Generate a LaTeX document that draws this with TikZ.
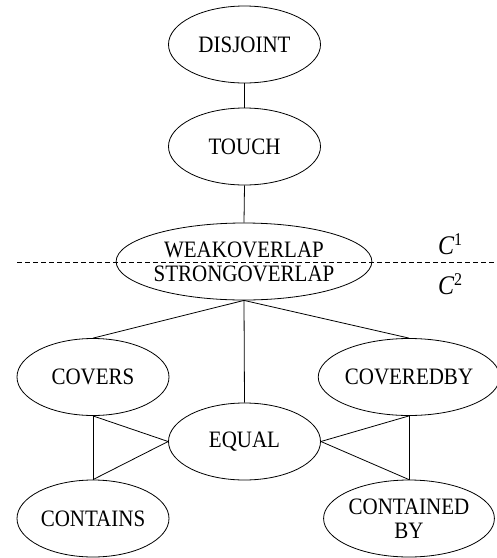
\documentclass[tikz,border=0pt]{standalone}
\usepackage{fontspec}
\setmainfont{Liberation Serif}
\usetikzlibrary{shapes.geometric}
\newcommand{\vsx}[1]{\scalebox{1}[1.12]{#1}}
\begin{document}
\begin{tikzpicture}[x=1pt,y=-1pt,
  rel/.style={draw,ellipse,line width=0.8pt,minimum width=152pt,minimum height=77pt,inner sep=0pt,align=center,font=\fontsize{21}{24}\selectfont},
  wide/.style={minimum width=228pt},
  con/.style={line width=0.8pt},
  lab/.style={font=\fontsize{24}{24}\selectfont\itshape,anchor=base west,inner sep=0pt}]
\useasboundingbox (0,0) rectangle (497,558);
\node[rel] (dis) at (244.5,44.5) {\vsx{DISJOINT}};
\node[rel] (tou) at (244.5,146.5) {\vsx{TOUCH}};
\node[rel,wide] (ovl) at (244,261.5) {\vsx{WEAKOVERLAP}\\\vsx{STRONGOVERLAP}};
\node[rel] (cov) at (93,377) {\vsx{COVERS}};
\node[rel] (cvb) at (409,377) {\vsx{COVEREDBY}};
\node[rel] (equ) at (244.5,441.5) {\vsx{EQUAL}};
\node[rel] (con) at (93,518.5) {\vsx{CONTAINS}};
\node[rel] (ctb) at (409,518.5) {\vsx{CONTAINED}\\\vsx{BY}};
\draw[con] (dis.south) -- (tou.north);
\draw[con] (tou.south) -- (ovl.north);
\draw[con] (ovl.south) -- (cov.north);
\draw[con] (ovl.south) -- (equ.north);
\draw[con] (ovl.south) -- (cvb.north);
\draw[con] (cov.south) -- (con.north);
\draw[con] (cov.south) -- (equ.west);
\draw[con] (con.north) -- (equ.west);
\draw[con] (cvb.south) -- (ctb.north);
\draw[con] (equ.east) -- (cvb.south);
\draw[con] (equ.east) -- (ctb.north);
\coordinate (dl) at (17,262);
\coordinate (dr) at (497,262);
\draw[con,dash pattern=on 5pt off 3pt] (dl) -- (dr);
\node[lab] (c1) at (438,254) {\vsx{C\raisebox{8pt}{\fontsize{16}{16}\selectfont\upshape 1}}};
\node[lab] (c2) at (438,294) {\vsx{C\raisebox{8pt}{\fontsize{16}{16}\selectfont\upshape 2}}};
\end{tikzpicture}
\end{document}
